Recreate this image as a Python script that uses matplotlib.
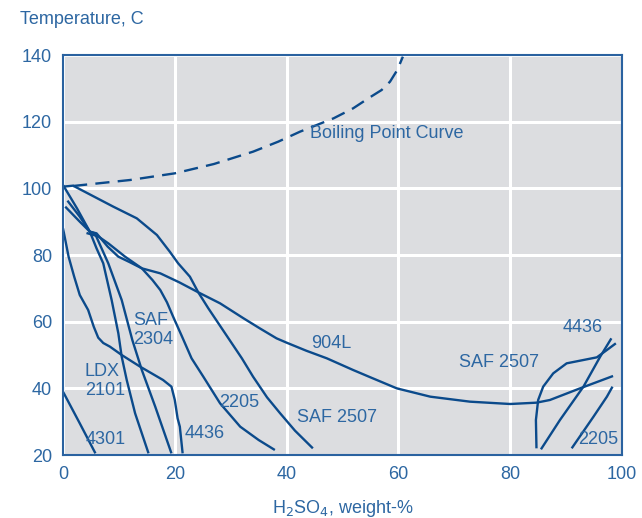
import matplotlib
matplotlib.use("Agg")
import matplotlib.pyplot as plt

# ---- data (H2SO4 weight-%, temperature C) ----
boil_x = [1.8, 12, 20, 27, 34, 38.5, 42.4, 48.4, 51.9, 54.9, 57, 58.5, 59.8, 60.8]
boil_y = [100.7, 102.5, 104.5, 107.3, 111, 114, 117, 121, 124, 127.3, 129.5, 132, 135.5, 139.5]

saf2507_x = [0, 1.8, 5, 9, 13.2, 16.8, 19.1, 20.6, 22.7, 24.2, 26, 27.8, 30, 32, 34, 36.5, 38.8, 41.5, 44.7]
saf2507_y = [100.5, 100.8, 98, 94.5, 91, 86, 81, 77.5, 73.5, 68.8, 64, 59.5, 54, 49, 43.5, 37.3, 32.6, 27.3, 22]

ldx_x = [0, 2.5, 4.8, 6, 7.2, 8.7, 9.9, 10.5, 11.4, 12.9, 15.3]
ldx_y = [101, 94, 87, 82, 77.5, 66.5, 56.5, 49.5, 42.5, 32.5, 20.5]

saf2304_x = [0.8, 3, 4.8, 5.7, 8.1, 10.5, 12.4, 14.1, 16.5, 19.4]
saf2304_y = [96.3, 91.5, 87, 86.5, 77.5, 66.5, 54.5, 45.5, 34.5, 20.5]

d2205_x = [0.4, 3, 4.8, 6, 8, 9.9, 12, 14.1, 16, 17.4, 18.6, 19.7, 21.3, 23, 25.1, 28.1, 31.7, 35, 37.9]
d2205_y = [94.5, 90, 87, 86.5, 82.5, 79.5, 77.8, 76, 72.5, 69.5, 65.8, 61.5, 55.5, 49, 43.5, 35.5, 28.5, 24.5, 21.5]

n904_x = [4.2, 6.3, 8.1, 11.1, 14.1, 17.4, 20.8, 24.2, 28.1, 32.3, 35.2, 38.2, 40, 43.5, 47.2, 51.9, 55, 59.7, 65.7, 72.8, 80, 84.7, 87.1, 92.5, 98.4]
n904_y = [86.6, 85.6, 83.5, 79.5, 76, 74.5, 71.8, 68.8, 65.5, 61, 58, 55, 53.7, 51.3, 49, 45.5, 43.3, 40, 37.5, 36, 35.3, 35.7, 36.5, 40, 43.7]

d4436_x = [0, 1, 2, 3, 4.5, 5.5, 6.3, 7.2, 8.4, 10.5, 13.8, 17.9, 19.4, 20, 20.5, 20.9, 21.4]
d4436_y = [88, 79.5, 73.5, 68, 63.5, 58.5, 55.2, 53.6, 52.5, 50, 46.5, 42.5, 40.5, 36.5, 31, 28.5, 20.5]

d4301_x = [0, 3, 5.8]
d4301_y = [39, 29.5, 20.5]

# high-concentration curves
hiA_x = [84.7, 84.6, 85, 85.9, 87.7, 90.1, 93.1, 95.5, 97.3, 98.9]
hiA_y = [22, 30.5, 36.5, 40.5, 44.5, 47.5, 48.5, 49.3, 51.5, 53.5]

hiB_x = [85.5, 88.9, 93.1, 96.1, 98.1]
hiB_y = [21.7, 30.5, 40.5, 49.5, 55]

hiC_x = [91, 94.9, 97.3, 98.3]
hiC_y = [22, 31.5, 37.5, 40.5]

x_ticks = [0, 20, 40, 60, 80, 100]
y_ticks = [20, 40, 60, 80, 100, 120, 140]

# labels: text, x, y
labels = [
    ("Boiling Point Curve", 44.2, 116.6),
    ("904L", 44.4, 53.6),
    ("SAF\n2304", 12.5, 57.5),
    ("LDX\n2101", 3.9, 42.2),
    ("4301", 4.1, 24.6),
    ("4436", 21.8, 26.3),
    ("2205", 28.0, 35.8),
    ("SAF 2507", 41.8, 31.4),
    ("SAF 2507", 70.8, 47.8),
    ("4436", 89.4, 58.4),
    ("2205", 92.2, 24.5),
]

LINE = "#0b4a8b"
TEXT = "#2d67a2"
BG = "#dcdde0"
FS = 13

plt.rcParams['font.family'] = ['Liberation Sans', 'DejaVu Sans']

fig = plt.figure(figsize=(6.42, 5.18), dpi=100)
ax = fig.add_axes([63/642, 63/518, 559/642, 400/518])
ax.set_facecolor(BG)
ax.set_xlim(0, 100)
ax.set_ylim(20, 140)
ax.set_xticks(x_ticks)
ax.set_yticks(y_ticks)
ax.grid(True, color="white", lw=2.2)
ax.set_axisbelow(True)
ax.tick_params(length=0, labelsize=FS, labelcolor=TEXT)
ax.tick_params(axis='y', pad=8)
ax.tick_params(axis='x', pad=8)
for s in ax.spines.values():
    s.set_color("#2a62a0")
    s.set_linewidth(1.5)

lw = 1.7
ax.plot(boil_x, boil_y, color=LINE, lw=lw, dashes=(6, 3.5))
for xs, ys in [(saf2507_x, saf2507_y), (ldx_x, ldx_y), (saf2304_x, saf2304_y),
               (d2205_x, d2205_y), (n904_x, n904_y), (d4436_x, d4436_y),
               (d4301_x, d4301_y), (hiA_x, hiA_y), (hiB_x, hiB_y), (hiC_x, hiC_y)]:
    ax.plot(xs, ys, color=LINE, lw=lw, solid_joinstyle='round', solid_capstyle='butt')

for t, x, y in labels:
    ax.text(x, y, t, color=TEXT, fontsize=FS, ha='left', va='center', linespacing=1.15)

fig.text(20/642, 1 - 19/518, "Temperature, C", color=TEXT, fontsize=FS, ha='left', va='center')
ax.set_xlabel("H$_2$SO$_4$, weight-%", color=TEXT, fontsize=FS, labelpad=11)

fig.savefig("out.png", dpi=100)
